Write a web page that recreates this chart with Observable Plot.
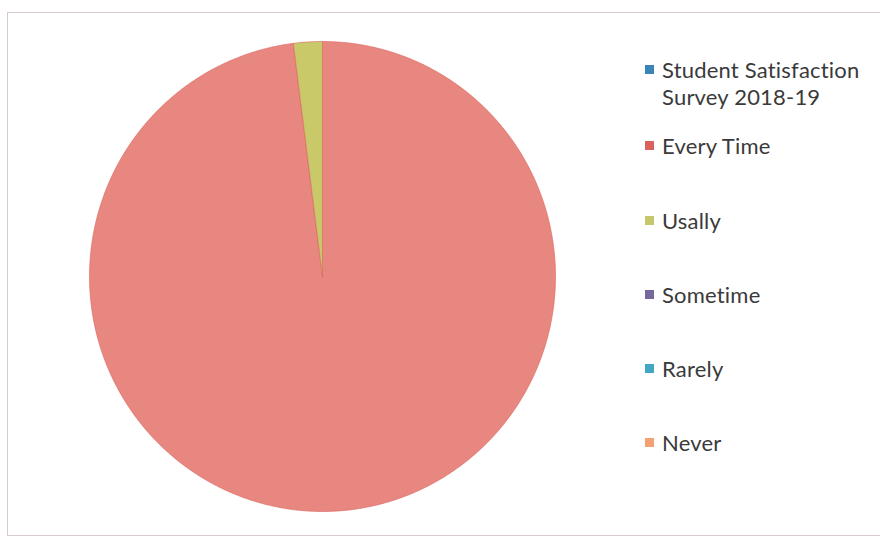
<!DOCTYPE html>
<html>
<head>
<meta charset="utf-8">
<script src="https://cdn.jsdelivr.net/npm/d3@7"></script>
<script src="https://cdn.jsdelivr.net/npm/@observablehq/plot@0.6"></script>
<style>
  html, body { margin: 0; padding: 0; background: #ffffff; }
  #wrap { position: relative; width: 880px; height: 540px; overflow: hidden; background: #fff; }
  #frame { position: absolute; left: 7px; top: 12px; width: 900px; height: 524px; border: 1px solid #d9c9cc; box-sizing: border-box; }
  #chart { position: absolute; left: 0; top: 0; }
  #legend { position: absolute; left: 645px; top: 0; font-family: Lato, "Open Sans", sans-serif; font-size: 22px; color: #3a3a3a; }
  .item { position: absolute; left: 0; white-space: nowrap; line-height: 27px; }
  .sw { position: absolute; left: 0; width: 9px; height: 9px; }
  .lbl { position: absolute; left: 17px; letter-spacing: 0.2px; }
</style>
</head>
<body>
<div id="wrap">
  <div id="frame"></div>
  <div id="chart"></div>
  <div id="legend"></div>
</div>
<script>
// Data
const categories = ["Student Satisfaction Survey 2018-19", "Every Time", "Usally", "Sometime", "Rarely", "Never"];
const values = [0, 49, 1, 0, 0, 0];
const colors = ["#3d86b9", "#e8877f", "#c9c96a", "#7a6a9e", "#43a9c4", "#f4a074"];
const legendColors = ["#3a84b8", "#d9625f", "#c6c66c", "#76689c", "#40a8c3", "#f3a072"];
const legendLines = [["Student Satisfaction", "Survey 2018-19"], ["Every Time"], ["Usally"], ["Sometime"], ["Rarely"], ["Never"]];

// Pie geometry from data (12 o'clock start, clockwise)
const rows = categories.map((c, i) => ({cat: c, value: values[i]}));
const arcs = d3.pie().sort(null).value(d => d.value)(rows);
const pts = [];
for (const a of arcs) {
  if (a.endAngle - a.startAngle <= 0) continue;
  const n = Math.max(2, Math.ceil((a.endAngle - a.startAngle) / (Math.PI / 360)));
  pts.push({cat: a.data.cat, x: 0, y: 0});
  for (let k = 0; k <= n; k++) {
    const t = a.startAngle + (a.endAngle - a.startAngle) * k / n;
    pts.push({cat: a.data.cat, x: Math.sin(t), y: Math.cos(t)});
  }
  pts.push({cat: a.data.cat, x: 0, y: 0});
}

const plot = Plot.plot({
  width: 880,
  height: 540,
  margin: 0,
  x: {domain: [-1, 1], range: [89, 555], axis: null},
  y: {domain: [-1, 1], range: [511, 41], axis: null},
  color: {domain: categories, range: colors},
  style: {background: "transparent"},
  marks: [
    Plot.line(pts, {x: "x", y: "y", z: "cat", fill: "cat", stroke: "#da6460", strokeWidth: 1, strokeOpacity: 0.6, curve: "linear"})
  ]
});
document.getElementById("chart").appendChild(plot);

// Legend
const legendY = [70, 146, 221, 295, 369, 443];
const lg = document.getElementById("legend");
categories.forEach((c, i) => {
  const it = document.createElement("div");
  it.className = "item";
  const y0 = legendY[i];
  it.style.top = (y0 - 14) + "px";
  const sw = document.createElement("div");
  sw.className = "sw";
  sw.style.background = legendColors[i];
  sw.style.top = "9px";
  it.appendChild(sw);
  const lb = document.createElement("div");
  lb.className = "lbl";
  lb.innerHTML = legendLines[i].join("<br>");
  it.appendChild(lb);
  lg.appendChild(it);
});
</script>
</body>
</html>
